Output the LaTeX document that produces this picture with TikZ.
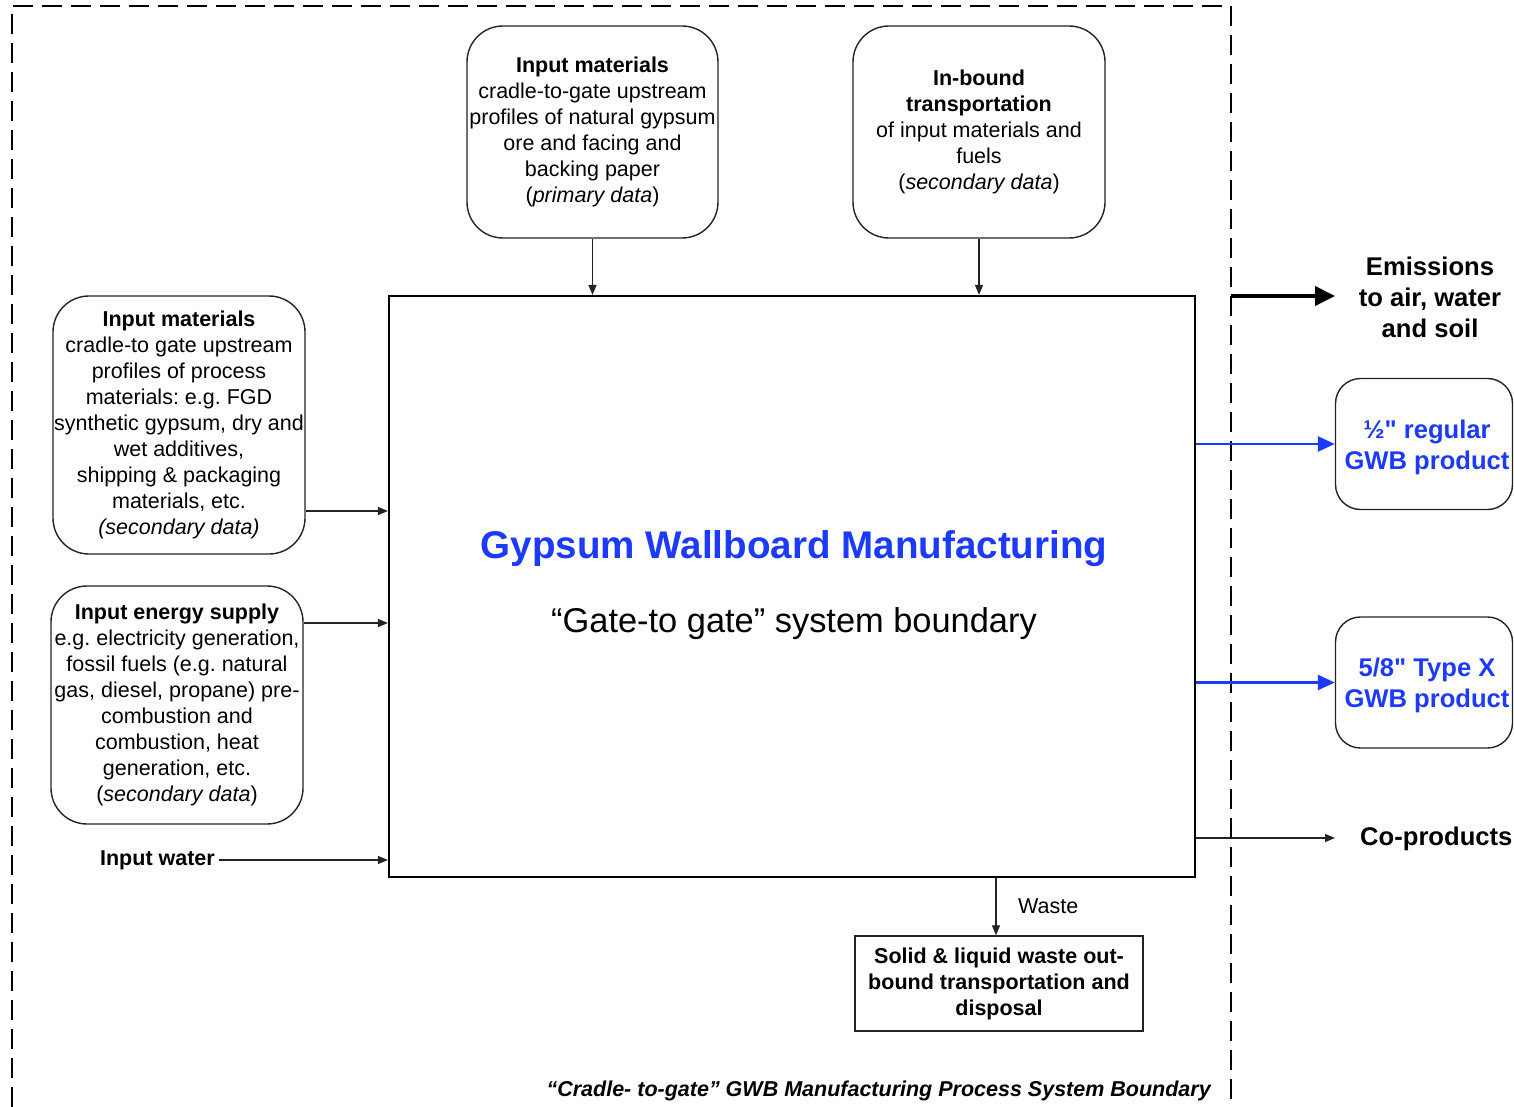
\documentclass[tikz,border=0pt]{standalone}
\usepackage{fontspec}
\setmainfont{Liberation Sans}[Ligatures=TeXOff]
\usetikzlibrary{arrows.meta}
\definecolor{gwbblue}{RGB}{28,58,250}
\definecolor{edge}{RGB}{35,35,35}
\frenchspacing

\begin{document}
\begin{tikzpicture}[x=1pt,y=-1pt,
  txt/.style={font=\fontsize{21.5}{26}\selectfont, align=center, inner sep=0pt, text=black},
  bigtxt/.style={font=\fontsize{25.6}{31}\selectfont\bfseries, align=center, inner sep=0pt},
  roundbox/.style={draw=edge, line width=1.4pt, rounded corners=36pt, inner sep=0pt,
    font=\fontsize{21.5}{26}\selectfont, align=center},
  prodbox/.style={draw=edge, line width=1.4pt, rounded corners=25pt, inner sep=0pt,
    minimum width=177pt, minimum height=131pt},
  prodtxt/.style={text=gwbblue, font=\fontsize{25.6}{31}\selectfont\bfseries, align=center, inner sep=0pt},
  arr/.style={draw=edge, line width=1.3pt, -{Triangle[length=10pt,width=8pt]}},
  bluearr/.style={draw=gwbblue, line width=2.5pt, -{Triangle[length=17pt,width=15pt]}},
  thickarr/.style={draw=black, line width=4pt, -{Triangle[length=20pt,width=19pt]}},
  boundary/.style={draw=black, line width=2.4pt, dash pattern=on 20pt off 9pt}]

\path[use as bounding box] (0,0) rectangle (1514,1107);
\clip (0,0) rectangle (1514,1107);

% system boundary (cradle-to-gate)
\draw[boundary] (12,1107) -- (12,6) -- (1231,6) -- (1231,1107);

% central process
\node[draw=black, line width=2.2pt, minimum width=806pt, minimum height=581pt, inner sep=0pt]
  (main) at (792,586.5) {};
\node[font=\fontsize{38.6}{44}\selectfont\bfseries, text=gwbblue, inner sep=0pt]
  (title) at (794,549) {Gypsum Wallboard Manufacturing};
\node[font=\fontsize{34.4}{40}\selectfont, inner sep=0pt]
  (subtitle) at (794,624) {“Gate-to gate” system boundary};

% upstream inputs
\node[roundbox, minimum width=251pt, minimum height=212pt] (tb1) at (592.5,132)
  {\textbf{Input materials}\\cradle-to-gate upstream\\profiles of natural gypsum\\ore and facing and\\backing paper\\(\textit{primary data})};
\node[roundbox, minimum width=252pt, minimum height=212pt] (tb2) at (979,132)
  {\textbf{In-bound}\\\textbf{transportation}\\of input materials and\\fuels\\(\textit{secondary data})};
\node[roundbox, minimum width=252pt, minimum height=258pt] (lb1) at (179,425)
  {\textbf{Input materials}\\cradle-to gate upstream\\profiles of process\\materials: e.g. FGD\\synthetic gypsum, dry and\\wet additives,\\shipping \& packaging\\materials, etc.\\\textit{(secondary data)}};
\node[roundbox, minimum width=252pt, minimum height=238pt] (lb2) at (177,705)
  {\textbf{Input energy supply}\\e.g. electricity generation,\\fossil fuels (e.g. natural\\gas, diesel, propane) pre-\\combustion and\\combustion, heat\\generation, etc.\\(\textit{secondary data})};
\node[txt, font=\fontsize{21.5}{26}\selectfont\bfseries, anchor=east] (water) at (215,860) {Input water};

\draw[arr] (tb1.south) -- (tb1.south |- main.north);
\draw[arr] (tb2.south) -- (tb2.south |- main.north);
\draw[arr] (lb1.east |- 0,511) -- (main.west |- 0,511);
\draw[arr] (lb2.east |- 0,623) -- (main.west |- 0,623);
\draw[arr] ([xshift=4pt]water.east) -- (main.west |- water.east);

% outputs
\coordinate (emstart) at (1231,296);
\coordinate (emend) at (1335,296);
\draw[thickarr] (emstart) -- (emend);
\node[bigtxt] (emis) at (1430,297) {Emissions\\to air, water\\and soil};

\node[prodbox] (pb1) at (1424,444) {};
\node[prodtxt] (pb1txt) at (1427,447) {½" regular\\GWB product};
\node[prodbox] (pb2) at (1424,682.5) {};
\node[prodtxt] (pb2txt) at (1427,685.5) {5/8" Type X\\GWB product};
\draw[bluearr] (main.east |- pb1.west) -- (pb1.west);
\draw[bluearr] (main.east |- pb2.west) -- (pb2.west);

\coordinate (coend) at (1335,838);
\node[bigtxt, anchor=west] (coprod) at (1360,839) {Co-products};
\draw[arr] (main.east |- coend) -- (coend);

% waste
\node[draw=edge, line width=1.4pt, minimum width=288pt, minimum height=95pt, inner sep=0pt,
  font=\fontsize{21.5}{26}\selectfont\bfseries, align=center] (wb) at (999,983.5)
  {Solid \& liquid waste out-\\bound transportation and\\disposal};
\draw[arr] (main.south -| 996,0) -- (wb.north -| 996,0);
\node[txt, anchor=west] (wastelbl) at (1018,906) {Waste};

% boundary caption
\node[font=\fontsize{21.5}{26}\selectfont\bfseries\itshape, anchor=east, inner sep=0pt]
  (caption) at (1211,1091) {“Cradle- to-gate” GWB Manufacturing Process System Boundary};
\end{tikzpicture}
\end{document}
